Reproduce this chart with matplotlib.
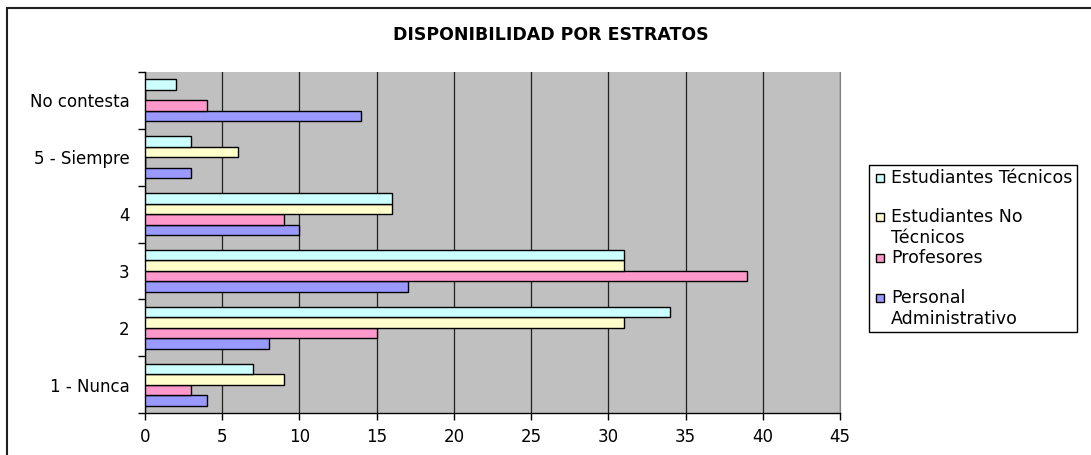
import numpy as np
import matplotlib.pyplot as plt
from matplotlib.patches import Rectangle

# --- DATA ---
categories = ['1 - Nunca', '2', '3', '4', '5 - Siempre', 'No contesta']
series = ['Personal\nAdministrativo', 'Profesores', 'Estudiantes No\nTécnicos', 'Estudiantes Técnicos']
personal_adm = [4, 8, 17, 10, 3, 14]
profesores = [3, 15, 39, 9, 0, 4]
est_no_tec = [9, 31, 31, 16, 6, 0]
est_tec = [7, 34, 31, 16, 3, 2]
colors = ['#9999FF', '#FF99CC', '#FFFFCC', '#CCFFFF']

values = [personal_adm, profesores, est_no_tec, est_tec]

W, H = 1091, 455
plt.rcParams['font.family'] = 'DejaVu Sans'
fig = plt.figure(figsize=(W / 100, H / 100), dpi=100)

ax = fig.add_axes([145 / W, 1 - 413 / H, (840 - 145) / W, (413 - 72) / H])
ax.set_facecolor('#C0C0C0')

# --- BARS ---
y = np.arange(len(categories))
bh = 0.185
for i, (vals, c) in enumerate(zip(values, colors)):
    ax.barh(y + (i - 1.5) * bh, vals, height=bh, color=c, edgecolor='black',
            linewidth=1.0, zorder=3)

# --- AXES ---
ax.set_xlim(0, 45)
ax.set_ylim(-0.5, len(categories) - 0.5)
ax.set_xticks(np.arange(0, 46, 5))
ax.xaxis.grid(True, color='#202020', lw=0.9, zorder=1)
ax.set_yticks(y)
ax.set_yticklabels(categories)
ax.set_yticks(np.arange(-0.5, len(categories)), minor=True)
ax.tick_params(axis='y', which='major', length=0, pad=11, labelsize=12)
ax.tick_params(axis='y', which='minor', length=5, width=1, color='black')
ax.tick_params(axis='x', length=5, width=1, labelsize=12, pad=6)
ax.spines['top'].set_visible(False)
ax.spines['right'].set_color('#808080')
for s in ('left', 'bottom'):
    ax.spines[s].set_linewidth(1.0)

fig.text(551 / W, 1 - 35 / H, 'DISPONIBILIDAD POR ESTRATOS',
         ha='center', va='center', fontsize=12.5, fontweight='bold')

# --- LEGEND ---
lx0, ly0, lx1, ly1 = 869, 165, 1077, 332
fig.add_artist(Rectangle((lx0 / W, 1 - ly1 / H), (lx1 - lx0) / W, (ly1 - ly0) / H,
                         transform=fig.transFigure, fill=False, ec='black', lw=1.0))
rows = [178, 217, 258, 298]
for name, c, ry in zip(series[::-1], colors[::-1], rows):
    fig.add_artist(Rectangle((876 / W, 1 - (ry + 4) / H), 8 / W, 8 / H,
                             transform=fig.transFigure, fc=c, ec='black', lw=1.0))
    fig.text(891 / W, 1 - (ry - 9) / H, name, ha='left', va='top', fontsize=12.5,
             linespacing=1.2)

# --- OUTER FRAME ---
fig.add_artist(Rectangle((7 / W, -0.1), 1.2, 1.1 - 8 / H, transform=fig.transFigure,
                         fill=False, ec='#202020', lw=1.5))

plt.savefig('out.png', dpi=100)
